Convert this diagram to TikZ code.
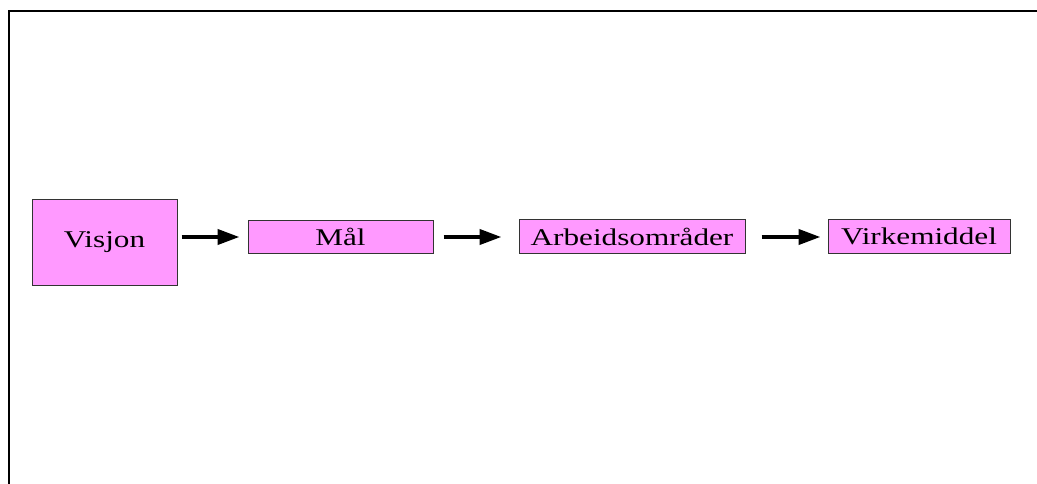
\documentclass[tikz,border=0pt]{standalone}
\usepackage{fontspec}
\newfontfamily\boxfont[FakeStretch=1.3]{Liberation Serif}
\usetikzlibrary{arrows.meta}
\definecolor{boxpink}{HTML}{FF99FF}
\definecolor{boxline}{HTML}{333333}
\tikzset{
  box/.style={draw=boxline, line width=1pt, fill=boxpink, inner sep=0pt,
    font=\boxfont\fontsize{24}{28}\selectfont, text=black},
  arr/.style={line width=4pt, -{Triangle[length=22pt,width=15pt]}},
  frame/.style={line width=2pt, line cap=rect}
}
\begin{document}
\begin{tikzpicture}[x=1pt,y=-1pt]
\useasboundingbox (0,0) rectangle (1037,484);
\coordinate (fl) at (9,484);
\coordinate (fc) at (9,11);
\coordinate (fr) at (1037,11);
\draw[frame] (fl) -- (fc) -- (fr);
\node[box, minimum width=145pt, minimum height=85pt] (vis) at (104.5,242.5) {\raisebox{-3pt}{Visjon}};
\node[box, minimum width=185pt, minimum height=32pt] (mal) at (340.5,237) {Mål};
\node[box, minimum width=226pt, minimum height=33pt] (arb) at (632,236.5) {Arbeidsområder};
\node[box, minimum width=182pt, minimum height=33pt] (virk) at (919,236.5) {Virkemiddel};
\draw[arr] ([xshift=4pt]vis.east |- mal.west) -- ([xshift=-8pt]mal.west);
\draw[arr] ([xshift=10pt]mal.east) -- ([xshift=-17pt]arb.west |- mal.east);
\draw[arr] ([xshift=16pt]arb.east |- mal.east) -- ([xshift=-7pt]virk.west |- mal.east);
\end{tikzpicture}
\end{document}
